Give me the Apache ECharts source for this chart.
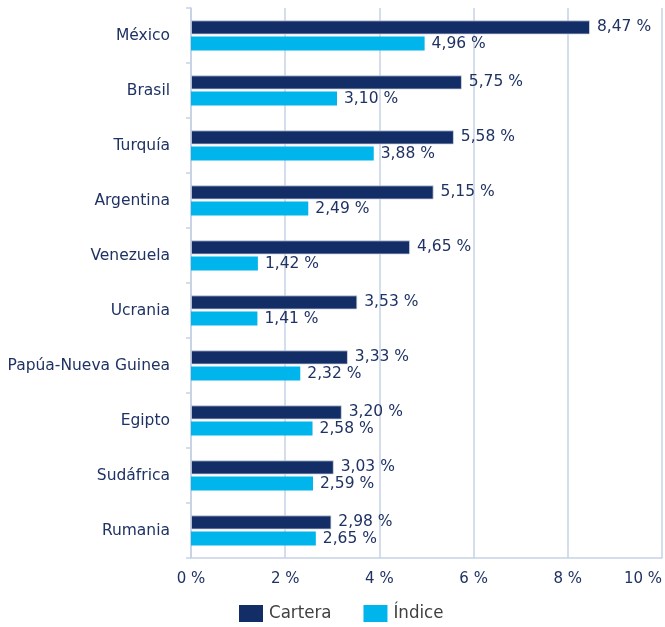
<!DOCTYPE html>
<html>
<head>
<meta charset="utf-8">
<script src="https://cdn.jsdelivr.net/npm/echarts@6/dist/echarts.min.js"></script>
<style>
  html, body { margin: 0; padding: 0; background: #fff; }
  #chart { width: 665px; height: 627px; }
</style>
</head>
<body>
<div id="chart"></div>
<script>
const countries = ['México', 'Brasil', 'Turquía', 'Argentina', 'Venezuela', 'Ucrania', 'Papúa-Nueva Guinea', 'Egipto', 'Sudáfrica', 'Rumania'];
const cartera = [8.47, 5.75, 5.58, 5.15, 4.65, 3.53, 3.33, 3.20, 3.03, 2.98];
const indice = [4.96, 3.10, 3.88, 2.49, 1.42, 1.41, 2.32, 2.58, 2.59, 2.65];
const xTicks = [0, 2, 4, 6, 8, 10];

const fmt = v => v.toFixed(2).replace('.', ',') + ' %';
const font = 'DejaVu Sans, Verdana, sans-serif';

const chart = echarts.init(document.getElementById('chart'));
chart.setOption({
    animation: false,
    textStyle: { fontFamily: font },
    grid: { left: 191, right: 3, top: 8, bottom: 69, containLabel: false, outerBoundsMode: 'none' },
    legend: {
        top: 604,
        left: 239,
        padding: 0,
        itemWidth: 24,
        itemHeight: 17,
        itemGap: 32,
        icon: 'rect',
        itemStyle: { borderWidth: 0 },
        textStyle: { fontSize: 18.5, color: '#404040', fontFamily: 'DejaVu Sans Condensed, sans-serif', padding: [0, 0, 0, 1] },
        data: ['Cartera', 'Índice']
    },
    xAxis: {
        type: 'value',
        min: xTicks[0],
        max: xTicks[xTicks.length - 1],
        interval: 2,
        axisLine: { show: true, lineStyle: { color: '#c5d2e5', width: 1.5 } },
        axisTick: { show: false },
        splitLine: { show: true, lineStyle: { color: '#c5d2e5', width: 1.5 } },
        axisLabel: { formatter: v => v + ' %', color: '#1f3264', fontSize: 15, margin: 14, alignMaxLabel: 'right' }
    },
    yAxis: {
        type: 'category',
        inverse: true,
        data: countries,
        axisLine: { show: true, lineStyle: { color: '#c5d2e5', width: 1.5 } },
        axisTick: { show: true, length: 5, lineStyle: { color: '#c5d2e5', width: 1.5 } },
        axisLabel: { color: '#1f3264', fontSize: 15.5, margin: 21 }
    },
    series: [
        {
            name: 'Cartera',
            type: 'bar',
            data: cartera,
            barWidth: 14,
            barGap: '15%',
            itemStyle: { color: '#132d66', borderColor: '#d5dbe6', borderWidth: 0.8 },
            label: { show: true, position: 'right', distance: 7, formatter: p => fmt(p.value), color: '#1f3264', fontSize: 15.5 }
        },
        {
            name: 'Índice',
            type: 'bar',
            data: indice,
            barWidth: 14,
            itemStyle: { color: '#00b4ec' },
            label: { show: true, position: 'right', distance: 7, formatter: p => fmt(p.value), color: '#1f3264', fontSize: 15.5 }
        }
    ]
});
</script>
</body>
</html>
